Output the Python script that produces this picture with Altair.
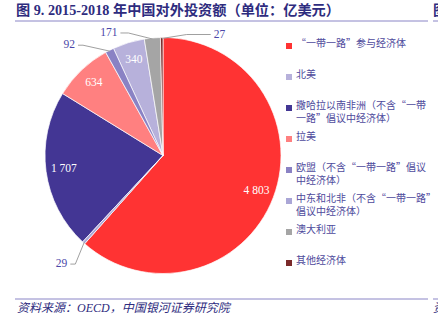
import math
import altair as alt
import pandas as pd

# ---------------- data ----------------
categories = [
    "“一带一路”参与经济体",
    "北美",
    "撒哈拉以南非洲（不含“一带一路”倡议中经济体）",
    "拉美",
    "欧盟（不含“一带一路”倡议中经济体）",
    "中东和北非（不含“一带一路”倡议中经济体）",
    "澳大利亚",
    "其他经济体",
]
values = [4803, 340, 1707, 634, 92, 29, 171, 27]
value_labels = ["4 803", "340", "1 707", "634", "92", "29", "171", "27"]
# clockwise order of the slices starting at 12 o'clock
pie_rank = [0, 5, 2, 3, 4, 1, 6, 7]
legend_text = [
    "“一带一路”参与经济体",
    "北美",
    "撒哈拉以南非洲（不含“一带\n一路”倡议中经济体）",
    "拉美",
    "欧盟（不含“一带一路”倡议\n中经济体）",
    "中东和北非（不含“一带一路”\n倡议中经济体）",
    "澳大利亚",
    "其他经济体",
]
inside = [True, True, True, True, False, False, False, False]

title_text = "图 9. 2015-2018 年中国对外投资额（单位：亿美元）"
source_text = "资料来源：OECD，中国银河证券研究院"

# ---------------- style ----------------
colors = ["#FF3333", "#B7B1DB", "#433694", "#FF8080", "#8A82C4", "#AAA6D6", "#A5A5A5", "#7B2A2A"]
W, H = 438, 326
CX, CY, R = 163, 155.5, 118
NAVY = "#2E2C7E"
LABEL_BLUE = "#4B47A8"
LEGEND_BLUE = "#4E4A9C"
LINE_PURPLE = "#8A85C6"
SERIF = "Liberation Serif, Noto Sans CJK SC"
CJK = "Noto Sans CJK SC"

# leader-line layout for the small slices: (elbow dx, elbow dy, tail length)
leader_layout = {4: (-27, -6, -5), 5: (-9, 22, -5), 6: (-24, -6, -8), 7: (25, -4, 24)}

df = pd.DataFrame({
    "cat": categories,
    "value": values,
    "rank": pie_rank,
    "inner": [l if ins else "" for l, ins in zip(value_labels, inside)],
    "legend": legend_text,
    "idx": list(range(len(categories))),
})

# mid-angles of slices derived from the data
total = sum(values)
cum = 0.0
mid = {}
for i in sorted(range(len(values)), key=lambda k: pie_rank[k]):
    mid[i] = (cum + values[i] / 2) / total * 2 * math.pi
    cum += values[i]

line_rows, lab_rows = [], []
for i, (dx, dy, tail) in leader_layout.items():
    a = mid[i]
    x0 = CX + (R - 1) * math.sin(a)
    y0 = CY - (R - 1) * math.cos(a)
    x1, y1 = x0 + dx, y0 + dy
    x2 = x1 + tail
    for s, (px, py) in enumerate([(x0, y0), (x1, y1), (x2, y1)]):
        line_rows.append({"cat": categories[i], "seq": s, "px": px, "py": py})
    sgn = 1 if tail > 0 else -1
    lab_rows.append({"lab": value_labels[i], "px": x2 + sgn * 3, "py": y1,
                     "al": "left" if sgn > 0 else "right"})
lines_df = pd.DataFrame(line_rows)
labs_df = pd.DataFrame(lab_rows)

color_scale = alt.Scale(domain=categories, range=colors)
xpix = alt.Scale(domain=[0, W], range=[0, W], nice=False, zero=False)
ypix = alt.Scale(domain=[0, H], range=[0, H], nice=False, zero=False)

pie_base = alt.Chart(df).encode(
    theta=alt.Theta("value:Q", stack=True),
    order=alt.Order("rank:Q"),
)
arcs = pie_base.mark_arc(outerRadius=R, stroke="white", strokeWidth=0.7).encode(
    color=alt.Color("cat:N", scale=color_scale, legend=None),
    x=alt.value(CX), y=alt.value(CY),
)
inner_labels = pie_base.mark_text(radius=100, font=SERIF, fontSize=11.5, color="white").encode(
    text="inner:N", x=alt.value(CX), y=alt.value(CY),
)

leaders = alt.Chart(lines_df).mark_line(color="#A0A0A0", strokeWidth=1).encode(
    x=alt.X("px:Q", scale=xpix, axis=None),
    y=alt.Y("py:Q", scale=ypix, axis=None),
    detail="cat:N",
    order="seq:Q",
)
out_left = alt.Chart(labs_df).transform_filter("datum.al == 'right'").mark_text(
    align="right", baseline="middle", font=SERIF, fontSize=11.5, color=LABEL_BLUE
).encode(x=alt.X("px:Q", scale=xpix, axis=None), y=alt.Y("py:Q", scale=ypix, axis=None), text="lab:N")
out_right = alt.Chart(labs_df).transform_filter("datum.al == 'left'").mark_text(
    align="left", baseline="middle", font=SERIF, fontSize=11.5, color=LABEL_BLUE
).encode(x=alt.X("px:Q", scale=xpix, axis=None), y=alt.Y("py:Q", scale=ypix, axis=None), text="lab:N")

pie_layer = alt.layer(arcs, inner_labels, leaders, out_left, out_right)

leg_y = alt.Y("idx:O", scale=alt.Scale(type="point", range=[46, 263], padding=0), axis=None)
leg_sq = alt.Chart(df).mark_square(size=36, opacity=1).encode(
    x=alt.value(289), y=leg_y,
    color=alt.Color("cat:N", scale=color_scale, legend=None),
)
leg_tx = alt.Chart(df).mark_text(
    align="left", baseline="top", dy=-7, lineBreak="\n", lineHeight=13,
    font=CJK, fontSize=10, color=LEGEND_BLUE,
).encode(x=alt.value(296), y=leg_y, text="legend:N")
legend_layer = alt.layer(leg_sq, leg_tx)

# decorations: title, source, rules
one = pd.DataFrame({"t": [title_text], "s": [source_text]})
title = alt.Chart(one).mark_text(
    align="left", baseline="middle", font=SERIF, fontSize=14.2, fontWeight="bold", color=NAVY
).encode(x=alt.value(16), y=alt.value(11), text="t:N")
source = alt.Chart(one).mark_text(
    align="left", baseline="middle", font=SERIF, fontSize=12, fontStyle="italic", color=NAVY
).encode(x=alt.value(17), y=alt.value(308), text="s:N")
frag = pd.DataFrame({"a": ["图"], "b": ["资"]})
frag_t = alt.Chart(frag).mark_text(align="left", baseline="middle", font=SERIF, fontSize=14.2,
                                   fontWeight="bold", color=NAVY).encode(x=alt.value(433), y=alt.value(11), text="a:N")
frag_b = alt.Chart(frag).mark_text(align="left", baseline="middle", font=SERIF, fontSize=12,
                                   fontStyle="italic", color=NAVY).encode(x=alt.value(433), y=alt.value(308), text="b:N")
rule_src = pd.DataFrame({"k": [0]})
r1 = alt.Chart(rule_src).mark_rule(color=LINE_PURPLE, strokeWidth=1).encode(
    x=alt.value(15), x2=alt.value(428), y=alt.value(21))
r2 = alt.Chart(rule_src).mark_rule(color=LINE_PURPLE, strokeWidth=1).encode(
    x=alt.value(15), x2=alt.value(428), y=alt.value(299))
r3 = alt.Chart(rule_src).mark_rule(color=LINE_PURPLE, strokeWidth=1).encode(
    x=alt.value(433), x2=alt.value(438), y=alt.value(21))
r4 = alt.Chart(rule_src).mark_rule(color=LINE_PURPLE, strokeWidth=1).encode(
    x=alt.value(433), x2=alt.value(438), y=alt.value(299))
deco = alt.layer(title, source, frag_t, frag_b, r1, r2, r3, r4)

chart = alt.layer(pie_layer, legend_layer, deco).resolve_scale(
    y="independent", x="independent"
).properties(
    width=W, height=H, padding=0, autosize="none", background="white"
).configure_view(strokeWidth=0)

chart.save("out.html", embed_options={"renderer": "svg", "actions": False})
